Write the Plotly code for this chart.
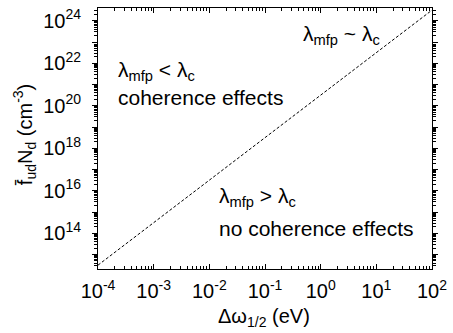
import plotly.graph_objects as go

# data
delta_omega = [1e-4, 1e2]          # eV
fN = [10**12.5, 10**24.5]          # cm^-3 (lambda_mfp ~ lambda_c boundary)

x_tick_exps = [-4, -3, -2, -1, 0, 1, 2]
y_tick_exps = list(range(13, 25))
y_label_exps = [14, 16, 18, 20, 22, 24]

FONT = "Liberation Sans, Arial, sans-serif"

fig = go.Figure()
fig.add_trace(go.Scatter(
    x=delta_omega, y=fN, mode="lines",
    line=dict(color="black", width=1, dash="3px,2px"),
    showlegend=False, hoverinfo="skip"))

x_minor = [m * 10.0**k for k in range(-4, 2) for m in range(2, 10)]
y_minor = [m * 10.0**k for k in range(12, 25) for m in range(2, 10)]

L, R, T, B = 97.5, 440, 6, 269

fig.update_xaxes(
    type="log", range=[-4, 2],
    tickmode="array",
    tickvals=[10.0**e for e in x_tick_exps],
    ticktext=[f"10<sup>{e}</sup>" for e in x_tick_exps],
    ticks="inside", ticklen=5, tickwidth=1, tickcolor="black",
    minor=dict(tickvals=x_minor, ticks="inside", ticklen=3, tickwidth=1, tickcolor="black"),
    showline=True, linecolor="black", linewidth=1, mirror="ticks",
    showgrid=False, zeroline=False, ticklabeloverflow="allow",
    ticklabelstandoff=4,
    tickfont=dict(family=FONT, size=20, color="black"),
)
fig.update_yaxes(
    type="log", range=[12.32, 24.6],
    tickmode="array",
    tickvals=[10.0**e for e in y_tick_exps],
    ticktext=[f"10<sup>{e}</sup>" if e in y_label_exps else "" for e in y_tick_exps],
    ticks="outside", ticklen=5, tickwidth=1, tickcolor="black",
    minor=dict(tickvals=y_minor, ticks="outside", ticklen=3, tickwidth=1, tickcolor="black"),
    showline=True, linecolor="black", linewidth=1, mirror="ticks",
    showgrid=False, zeroline=False, ticklabeloverflow="allow",
    ticklabelstandoff=7,
    tickfont=dict(family=FONT, size=20, color="black"),
)

def px_to_paper(px, py):
    return (px - L) / (R - L), 1 - (py - T) / (B - T)

# axis titles
tx, ty = px_to_paper(268, 318)
fig.add_annotation(text="Δω<sub>1/2</sub> (eV)", xref="paper", yref="paper",
                   x=tx, y=ty, xanchor="center", yanchor="middle", showarrow=False,
                   font=dict(family=FONT, size=20, color="black"))
tx, ty = px_to_paper(22, 133)
fig.add_annotation(text="f\u0304<sub>ud</sub>N<sub>d</sub> (cm<sup>-3</sup>)", xref="paper", yref="paper",
                   x=tx, y=ty, xanchor="center", yanchor="middle", showarrow=False, textangle=-90,
                   font=dict(family=FONT, size=20, color="black"))

ann_font = dict(family=FONT, size=21, color="black")
annotations = [
    ("λ<sub>mfp</sub> ~ λ<sub>c</sub>", 306, 33),
    ("λ<sub>mfp</sub> < λ<sub>c</sub>", 116, 69),
    ("coherence effects", 116, 96),
    ("λ<sub>mfp</sub> > λ<sub>c</sub>", 220, 196),
    ("no coherence effects", 220, 228),
]
for text, px, py in annotations:
    ax, ay = px_to_paper(px, py)
    fig.add_annotation(
        text=text, xref="paper", yref="paper", x=ax, y=ay,
        xanchor="left", yanchor="middle", showarrow=False, font=ann_font)

fig.update_layout(
    width=453, height=333,
    margin=dict(l=L, r=453 - R, t=T, b=333 - B),
    paper_bgcolor="white", plot_bgcolor="white",
    font=dict(family=FONT, color="black"),
)
fig.write_html("out.html")
